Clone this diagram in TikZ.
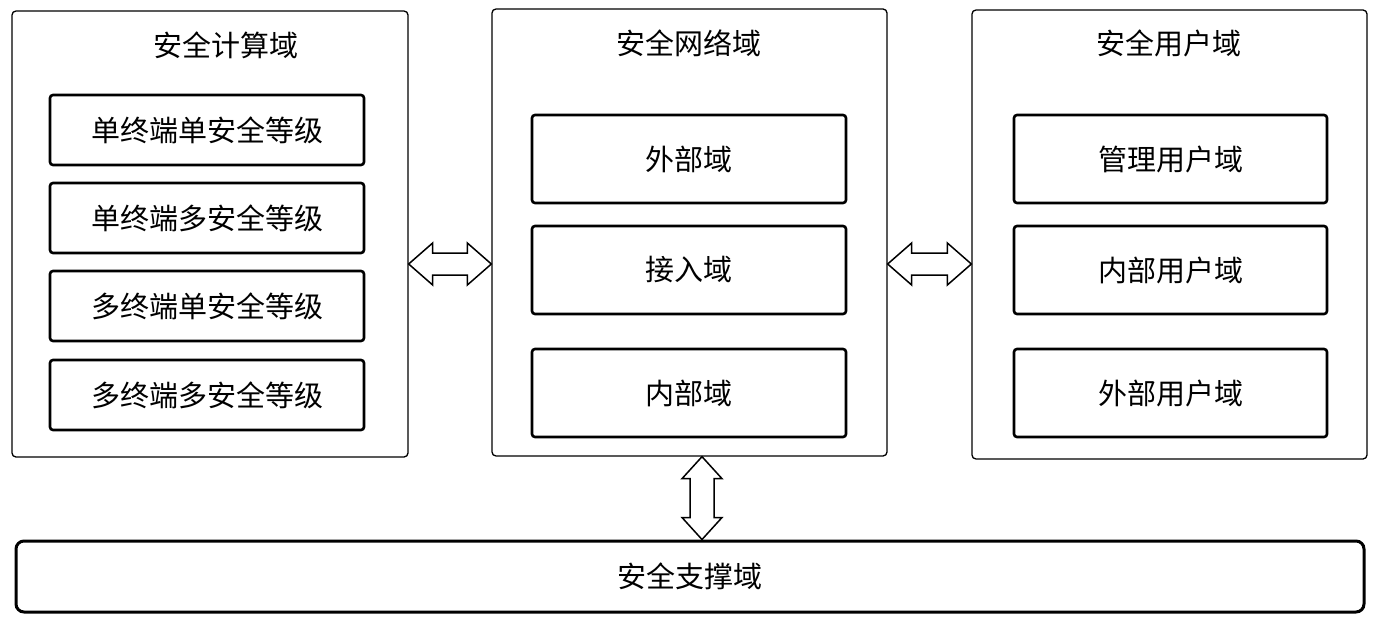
\documentclass[tikz,border=0pt]{standalone}
\usepackage{fontspec}
\newfontfamily\cjk{Noto Sans CJK SC}
\usepackage{tikz}
\usetikzlibrary{calc}

% hollow double arrows between two boxes
\newcommand{\hdblarrow}[3]{%
  \draw[fatarrow] let \p1=(#1.east), \p2=(#2.west), \p3=(#3) in
    (\x1,\y3) -- (\x1+24pt,\y3+21pt) -- (\x1+24pt,\y3+11pt) -- (\x2-24pt,\y3+11pt)
    -- (\x2-24pt,\y3+21pt) -- (\x2,\y3) -- (\x2-24pt,\y3-21pt) -- (\x2-24pt,\y3-11pt)
    -- (\x1+24pt,\y3-11pt) -- (\x1+24pt,\y3-21pt) -- cycle;}
\newcommand{\vdblarrow}[3]{%
  \draw[fatarrow] let \p1=(#1.south), \p2=(#2.north), \p3=(#3) in
    (\x3,\y1) -- (\x3+20pt,\y1-22pt) -- (\x3+12pt,\y1-22pt) -- (\x3+12pt,\y2+22pt)
    -- (\x3+20pt,\y2+22pt) -- (\x3,\y2) -- (\x3-20pt,\y2+22pt) -- (\x3-12pt,\y2+22pt)
    -- (\x3-12pt,\y1-22pt) -- (\x3-20pt,\y1-22pt) -- cycle;}

\begin{document}
\begin{tikzpicture}[x=1pt,y=-1pt,
    every node/.style={font=\cjk\fontsize{29}{34}\selectfont, inner sep=0pt},
    domainbox/.style={draw, line width=1.3pt, rounded corners=4pt},
    partbox/.style={draw, line width=2.6pt, rounded corners=3pt},
    basebox/.style={draw, line width=3pt, rounded corners=8pt},
    fatarrow/.style={draw, fill=white, line width=1.5pt, line join=miter}]
  \useasboundingbox (0,0) rectangle (1381,629);

  % three domains
  \node[domainbox, minimum width=396, minimum height=446] (comp) at (210,234) {};
  \node[domainbox, minimum width=395, minimum height=447] (net) at (689.5,232.5) {};
  \node[domainbox, minimum width=395, minimum height=449] (user) at (1169.5,234.5) {};
  \node (compt) at (226,45) {安全计算域};
  \node (nett) at (689,43) {安全网络域};
  \node (usert) at (1169,43) {安全用户域};

  % computing domain
  \node[partbox, minimum width=314, minimum height=70] (ss) at (207,130) {单终端单安全等级};
  \node[partbox, minimum width=314, minimum height=70] (sm) at (207,218) {单终端多安全等级};
  \node[partbox, minimum width=314, minimum height=70] (ms) at (207,306) {多终端单安全等级};
  \node[partbox, minimum width=314, minimum height=70] (mm) at (207,395) {多终端多安全等级};

  % network domain
  \node[partbox, minimum width=314, minimum height=88] (ext) at (689,159) {外部域};
  \node[partbox, minimum width=314, minimum height=88] (acc) at (689,270) {接入域};
  \node[partbox, minimum width=314, minimum height=88] (int) at (689,393) {内部域};

  % user domain
  \node[partbox, minimum width=313, minimum height=88] (adm) at (1170.5,159) {管理用户域};
  \node[partbox, minimum width=313, minimum height=88] (inu) at (1170.5,270) {内部用户域};
  \node[partbox, minimum width=313, minimum height=88] (exu) at (1170.5,393) {外部用户域};

  % support domain
  \node[basebox, minimum width=1348, minimum height=71] (sup) at (690,576.5) {安全支撑域};

  % links
  \hdblarrow{comp}{net}{$(acc.center)+(0,-6)$}
  \hdblarrow{net}{user}{$(acc.center)+(0,-6)$}
  \vdblarrow{net}{sup}{$(net.center)+(12.5,0)$}
\end{tikzpicture}
\end{document}
